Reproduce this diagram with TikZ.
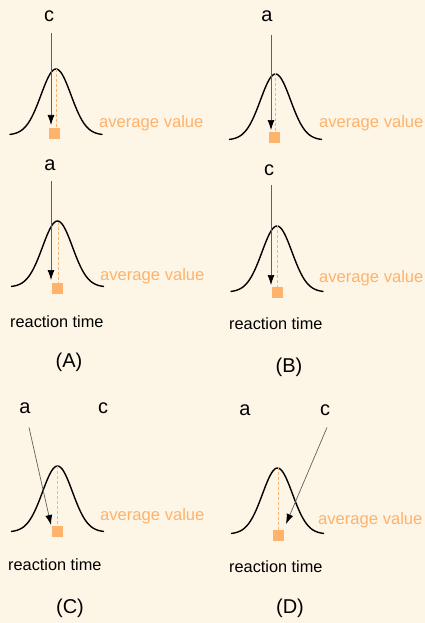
\documentclass[tikz,border=0pt]{standalone}
\usepackage{fontspec}
\setmainfont{Liberation Sans}
\usetikzlibrary{arrows.meta}
\definecolor{paper}{HTML}{FDF5E6}
\definecolor{mean}{HTML}{FDB36C}
\begin{document}
\begin{tikzpicture}[x=1pt, y=-1pt,
  letter/.style={anchor=base, inner sep=0pt, font=\fontsize{20}{24}\selectfont},
  caption/.style={anchor=base, inner sep=0pt, font=\fontsize{20}{24}\selectfont},
  axisname/.style={anchor=base west, inner sep=0pt, font=\fontsize{16.3}{19}\selectfont},
  avgname/.style={anchor=base west, inner sep=0pt, text=mean, font=\fontsize{16.6}{19}\selectfont},
  avgbox/.style={fill=mean, minimum size=11pt, inner sep=0pt},
  avgline/.style={mean, line width=0.8pt, dash pattern=on 3pt off 2pt},
  bell/.style={line width=1.4pt, line cap=round},
  pointer/.style={gray!75!black, line width=0.7pt, -{Latex[black, length=10pt, width=7pt]}}]
\fill[paper] (0,0) rectangle (425,623);
\useasboundingbox (0,0) rectangle (425,623);

% Curves
\foreach \cx/\by in {56/135, 57.5/287, 275.5/140, 277/292, 57.5/532, 277.5/534}
  \draw[bell] plot[domain=-46:46, samples=61] ({\cx+\x}, {\by-66*exp(-(\x*\x)/450)});

% Panel A
\node[letter] (cA1) at (49,21.5) {c};
\node[letter] (aA2) at (50,170) {a};
\coordinate (pA1) at (56,69);
\coordinate (pA2) at (58,221.5);
\node[avgbox] (mA1) at (54.5,133.5) {};
\node[avgbox] (mA2) at (57.5,288) {};
\coordinate (tA1) at (51,125);
\coordinate (tA2) at (51,280);
\draw[avgline] (pA1) -- (mA1.north -| pA1);
\draw[avgline] (pA2) -- (mA2.north -| pA2);
\draw[pointer] ([yshift=-11.5pt]cA1.south -| tA1) -- (tA1);
\draw[pointer] ([yshift=-11pt]aA2.south -| tA2) -- (tA2);
\node[avgname] (vA1) at (99,128) {average value};
\node[avgname] (vA2) at (100,280) {average value};
\node[axisname] (rA) at (10,327) {reaction time};
\node[caption] (A) at (69,367) {(A)};

% Panel B
\node[letter] (aB1) at (267,21.5) {a};
\node[letter] (cB2) at (269,175) {c};
\coordinate (pB1) at (275.5,73);
\coordinate (pB2) at (277,225);
\node[avgbox] (mB1) at (274.5,137.5) {};
\node[avgbox] (mB2) at (277,292.5) {};
\coordinate (tB1) at (271,130);
\coordinate (tB2) at (271,285);
\draw[avgline] (pB1) -- (mB1.north -| pB1);
\draw[avgline] (pB2) -- (mB2.north -| pB2);
\draw[pointer] ([yshift=-13.5pt]aB1.south -| tB1) -- (tB1);
\draw[pointer] ([yshift=-10pt]cB2.south -| tB2) -- (tB2);
\node[avgname] (vB1) at (319,128) {average value};
\node[avgname] (vB2) at (319,282) {average value};
\node[axisname] (rB) at (229,329) {reaction time};
\node[caption] (B) at (289,372) {(B)};

% Panel C
\node[letter] (aC) at (25,413) {a};
\node[letter] (cC) at (103,413) {c};
\coordinate (pC) at (57.5,466);
\node[avgbox] (mC) at (57.5,531.5) {};
\coordinate (tC) at (51,525);
\draw[avgline] (pC) -- (mC.north);
\draw[pointer] ([xshift=4pt, yshift=-14pt]aC.south) -- (tC);
\node[avgname] (vC) at (100,520) {average value};
\node[axisname] (rC) at (8,570) {reaction time};
\node[caption] (C) at (70,613) {(C)};

% Panel D
\node[letter] (aD) at (245,415) {a};
\node[letter] (cD) at (325,415) {c};
\coordinate (pD) at (278.5,467);
\node[avgbox] (mD) at (278,535.5) {};
\coordinate (tD) at (286,524);
\draw[avgline] (pD) -- (mD.north -| pD);
\draw[pointer] ([xshift=2pt, yshift=-12pt]cD.south) -- (tD);
\node[avgname] (vD) at (318,524) {average value};
\node[axisname] (rD) at (229,572) {reaction time};
\node[caption] (D) at (290,613) {(D)};
\end{tikzpicture}
\end{document}
